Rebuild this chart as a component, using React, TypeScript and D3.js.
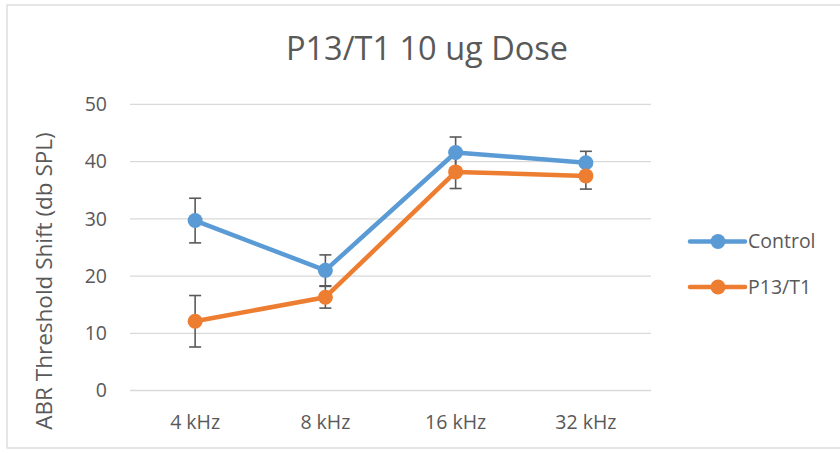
import React from "react";
import * as d3 from "d3";

const categories = ["4 kHz", "8 kHz", "16 kHz", "32 kHz"];
const controlValues = [29.7, 21.0, 41.6, 39.8];
const controlErrors = [3.9, 2.7, 2.7, 2.0];
const p13Values = [12.1, 16.3, 38.2, 37.5];
const p13Errors = [4.5, 1.9, 2.9, 2.3];
const yTicks = [0, 10, 20, 30, 40, 50];
const seriesNames = ["Control", "P13/T1"];
const seriesColors = ["#5B9BD5", "#ED7D31"];

const W = 840;
const H = 453;
const FONT = "'Open Sans', sans-serif";
const TEXT = "#595959";

export default function App() {
  const plotLeft = 130;
  const plotRight = 651;
  const plotTop = 104.4;
  const plotBottom = 390.5;

  const x = d3.scaleBand<string>().domain(categories).range([plotLeft, plotRight]).padding(0);
  const y = d3.scaleLinear().domain([0, 50]).range([plotBottom, plotTop]);
  const cx = (c: string) => (x(c) as number) + x.bandwidth() / 2;

  const series = [
    { name: seriesNames[0], color: seriesColors[0], values: controlValues, errors: controlErrors },
    { name: seriesNames[1], color: seriesColors[1], values: p13Values, errors: p13Errors },
  ];

  const line = d3
    .line<number>()
    .x((_, i) => cx(categories[i]))
    .y((d) => y(d));

  const legendY = [241.5, 287];

  return (
    <svg
      width={W}
      height={H}
      style={{ position: "absolute", left: 0, top: 0, background: "#fff" }}
      fontFamily={FONT}
    >
      <rect x={7} y={5} width={W} height={443} fill="#fff" stroke="#d9d9d9" strokeWidth={1.3} />
      <text x={427} y={60} textAnchor="middle" fontSize={32.5} fill={TEXT}>
        P13/T1 10 ug Dose
      </text>

      {yTicks.map((t) => (
        <g key={t}>
          <line x1={plotLeft} x2={plotRight} y1={y(t)} y2={y(t)} stroke="#d9d9d9" strokeWidth={1.3} />
          <text x={107} y={y(t)} dy="0.35em" textAnchor="end" fontSize={19.5} fill={TEXT}>
            {t}
          </text>
        </g>
      ))}

      {categories.map((c) => (
        <text key={c} x={cx(c)} y={422} dy="0.35em" textAnchor="middle" fontSize={19.5} fill={TEXT}>
          {c}
        </text>
      ))}

      <text
        transform={`translate(44, 281) rotate(-90)`}
        textAnchor="middle"
        dy="0.35em"
        fontSize={22.5}
        fill={TEXT}
      >
        ABR Threshold Shift (db SPL)
      </text>

      {series.map((s) => (
        <g key={s.name}>
          <path d={line(s.values) || ""} fill="none" stroke={s.color} strokeWidth={4.5} strokeLinejoin="round" strokeLinecap="round" />
        </g>
      ))}

      {series.map((s) => (
        <g key={s.name + "-err"}>
          {s.values.map((v, i) => {
            const px = cx(categories[i]);
            return (
              <g key={i} stroke="#595959" strokeWidth={1.6}>
                <line x1={px} x2={px} y1={y(v + s.errors[i])} y2={y(v - s.errors[i])} />
                <line x1={px - 6} x2={px + 6} y1={y(v + s.errors[i])} y2={y(v + s.errors[i])} />
                <line x1={px - 6} x2={px + 6} y1={y(v - s.errors[i])} y2={y(v - s.errors[i])} />
              </g>
            );
          })}
        </g>
      ))}

      {series.map((s) => (
        <g key={s.name + "-pts"}>
          {s.values.map((v, i) => (
            <circle key={i} cx={cx(categories[i])} cy={y(v)} r={7.5} fill={s.color} />
          ))}
        </g>
      ))}

      {series.map((s, k) => (
        <g key={s.name + "-leg"}>
          <line x1={690} x2={745} y1={legendY[k]} y2={legendY[k]} stroke={s.color} strokeWidth={4.5} strokeLinecap="round" />
          <circle cx={718} cy={legendY[k]} r={7.5} fill={s.color} />
          <text x={748} y={legendY[k]} dy="0.35em" fontSize={19.5} fill={TEXT}>
            {s.name}
          </text>
        </g>
      ))}
    </svg>
  );
}
